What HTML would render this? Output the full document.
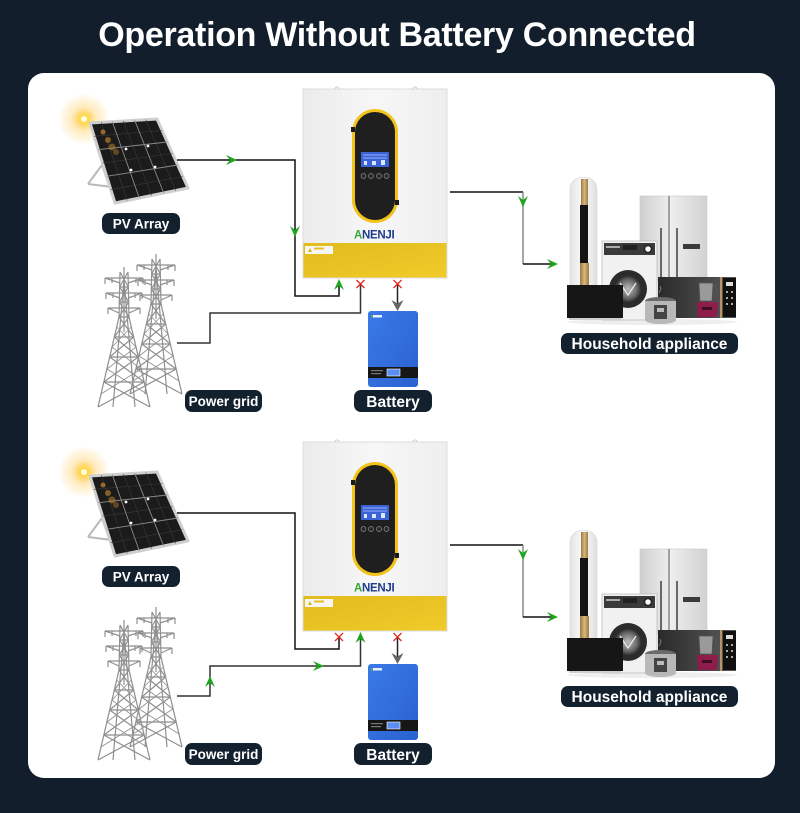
<!DOCTYPE html>
<html><head><meta charset="utf-8"><style>
html,body{margin:0;padding:0;background:#121e2b;}
svg{display:block;}
text{font-family:"Liberation Sans",Arial,sans-serif;}
</style></head><body>
<svg width="800" height="813" viewBox="0 0 800 813" xmlns="http://www.w3.org/2000/svg">
<defs>
  <radialGradient id="sunG" cx="0.5" cy="0.5" r="0.5">
    <stop offset="0" stop-color="#fffbe0"/>
    <stop offset="0.12" stop-color="#ffd640"/>
    <stop offset="0.45" stop-color="#ffc23a" stop-opacity="0.35"/>
    <stop offset="1" stop-color="#ffc23a" stop-opacity="0"/>
  </radialGradient>
  <linearGradient id="invBodyG" x1="0" y1="0" x2="1" y2="0">
    <stop offset="0" stop-color="#ebebeb"/><stop offset="0.5" stop-color="#f7f7f7"/><stop offset="1" stop-color="#eeeeee"/>
  </linearGradient>
  <linearGradient id="yelG" x1="0" y1="0" x2="1" y2="1">
    <stop offset="0" stop-color="#e2bb1c"/><stop offset="1" stop-color="#f0cb2a"/>
  </linearGradient>
  <linearGradient id="batG" x1="0" y1="0" x2="1" y2="1">
    <stop offset="0" stop-color="#3a7ae8"/><stop offset="1" stop-color="#2a62d0"/>
  </linearGradient>
  <linearGradient id="fridgeG" x1="0" y1="0" x2="1" y2="0">
    <stop offset="0" stop-color="#cfcfcf"/><stop offset="0.45" stop-color="#eeeeee"/><stop offset="1" stop-color="#d2d2d2"/>
  </linearGradient>
  <linearGradient id="acG" x1="0" y1="0" x2="1" y2="0">
    <stop offset="0" stop-color="#e4e4e4"/><stop offset="0.5" stop-color="#fbfbfb"/><stop offset="1" stop-color="#dedede"/>
  </linearGradient>
  <linearGradient id="goldG" x1="0" y1="0" x2="1" y2="0">
    <stop offset="0" stop-color="#9c7a45"/><stop offset="0.5" stop-color="#d8b77a"/><stop offset="1" stop-color="#9c7a45"/>
  </linearGradient>
  <linearGradient id="mwG" x1="0" y1="0" x2="1" y2="0">
    <stop offset="0" stop-color="#2a2a2a"/><stop offset="1" stop-color="#5a5a5a"/>
  </linearGradient>
  <radialGradient id="drumG" cx="0.5" cy="0.5" r="0.5">
    <stop offset="0" stop-color="#bdbdbd"/><stop offset="0.7" stop-color="#6a6a6a"/><stop offset="1" stop-color="#333"/>
  </radialGradient>

  <!-- tower -->
  <g id="tower" fill="none" stroke="#8f8f8f" stroke-width="1.2">
    <path d="M0,-5 V0 M-4,0 L-5,45 L-26,135 M4,0 L5,45 L26,135 M0,8 L-11,135 M0,8 L11,135 M0,0 V60"/>
    <path d="M-4,0 L4.3,15 M4,0 L-4.3,15 M-4.3,15 L4.7,30 M4.3,15 L-4.7,30 M-4.7,30 L5,45 M4.7,30 L-5,45 M-5,45 L9.7,65 M5,45 L-9.7,65 M-9.7,65 L14.3,85 M9.7,65 L-14.3,85 M-14.3,85 L20.2,110 M14.3,85 L-20.2,110 M-20.2,110 L26,135 M20.2,110 L-26,135"/>
    <path d="M-7.3,55 L12,75 M7.3,55 L-12,75 M-12,75 L17,97 M12,75 L-17,97 M-17,97 L23,122 M17,97 L-23,122" stroke-width="0.8"/>
    <path d="M-5,45 H5 M-9.7,65 H9.7 M-14.3,85 H14.3 M-20.2,110 H20.2 M-4.3,15 H4.3 M-4.7,30 H4.7"/>
    <path d="M-19,6 H19 M-19,6 v6 M19,6 v6 M-12,6 v5 M12,6 v5 M-19,6 L-4,11 M19,6 L4,11"/>
    <path d="M-18,21 H18 M-18,21 v6 M18,21 v6 M-11,21 v5 M11,21 v5 M-18,21 L-4,26 M18,21 L4,26"/>
    <path d="M-16,36 H16 M-16,36 v6 M16,36 v6 M-16,36 L-5,41 M16,36 L5,41"/>
  </g>

  <!-- solar panel -->
  <g id="solar">
    <circle cx="84" cy="119" r="26" fill="url(#sunG)"/>
    <path d="M102,165 L88,184 M102,165 L110,188 M88,184 L112,187" stroke="#b9b9b9" stroke-width="2" fill="none"/>
    <polygon points="90,123 157,119 188,188 115,203" fill="#1b1b1b" stroke="#cfcfcf" stroke-width="3" stroke-linejoin="round"/>
    <g stroke="#3a3a3a" stroke-width="0.6" fill="none">
      <path d="M101.2,122.3 L127.2,200.5 M123.5,121 L151.5,195.5 M145.8,119.6 L175.8,190.5"/>
      <path d="M94.2,136.3 L162.2,130.5 M102.5,163 L172.5,153.5 M110.8,189.7 L182.8,176.5"/>
    </g>
    <g stroke="#8a8a8a" stroke-width="0.9" fill="none">
      <path d="M112.3,121.7 L139.3,198 M134.7,120.3 L163.7,193"/>
      <path d="M98.3,149.7 L167.3,142 M106.7,176.3 L177.7,165"/>
    </g>
    <circle cx="126" cy="149" r="1.4" fill="#fff"/><circle cx="148" cy="146" r="1.4" fill="#fff"/>
    <circle cx="131" cy="170" r="1.4" fill="#fff"/><circle cx="155" cy="167" r="1.4" fill="#fff"/>
    <circle cx="103" cy="132" r="2.5" fill="#c98a2a" opacity="0.7"/>
    <circle cx="108" cy="140" r="3" fill="#c98a2a" opacity="0.6"/>
    <circle cx="112" cy="147" r="3.5" fill="#c98a2a" opacity="0.5"/>
    <circle cx="116" cy="152" r="3" fill="#c98a2a" opacity="0.4"/>
    <circle cx="84" cy="119" r="3" fill="#fffde0"/>
  </g>

  <!-- inverter -->
  <g id="inv">
    <rect x="303" y="89" width="144" height="189" fill="url(#invBodyG)" stroke="#dcdcdc" stroke-width="1"/>
    <path d="M335,89 a2,2 0 0 1 4,0 M413,89 a2,2 0 0 1 4,0" stroke="#ccc" fill="none" stroke-width="1"/>
    <rect x="303.5" y="243" width="143" height="34.5" fill="url(#yelG)"/>
    <rect x="305" y="246" width="28" height="8" fill="#f6f6f6"/>
    <polygon points="308,252 310,248 312,252" fill="#e1b419"/>
    <rect x="314" y="247.5" width="10" height="2" fill="#e6c020"/>
    <rect x="352" y="109" width="46" height="114" rx="23" fill="#f2c31a"/>
    <rect x="355" y="112" width="40" height="108" rx="20" fill="#1f1f1f"/>
    <rect x="351" y="127" width="4" height="5" fill="#1a1a1a"/>
    <rect x="395" y="200" width="4" height="5" fill="#1a1a1a"/>
    <rect x="361" y="152" width="28" height="15" fill="#3b63d8"/>
    <path d="M363,155 h24 M363,158 h24" stroke="#b8c8ff" stroke-width="0.8"/>
    <rect x="364" y="161" width="3" height="4" fill="#dde6ff"/><rect x="372" y="161" width="4" height="4" fill="#dde6ff"/><rect x="381" y="160" width="4" height="5" fill="#dde6ff"/>
    <g fill="#2a2a2a" stroke="#8a8a8a" stroke-width="0.7">
      <circle cx="363.5" cy="176" r="2.5"/><circle cx="371" cy="176" r="2.5"/><circle cx="379" cy="176" r="2.5"/><circle cx="386.5" cy="176" r="2.5"/>
    </g>
    <text x="354" y="238.5" font-size="11.5" font-weight="bold" letter-spacing="-0.3"><tspan fill="#3aa53a">A</tspan><tspan fill="#1d3c8c">NENJI</tspan></text>
  </g>

  <!-- battery -->
  <g id="battery">
    <rect x="368" y="311" width="50" height="76" rx="3" fill="url(#batG)"/>
    <rect x="368" y="367" width="50" height="11" fill="#161616"/>
    <rect x="387" y="369" width="13" height="7" fill="#5b8ef0" stroke="#fff" stroke-width="0.6"/>
    <rect x="371" y="370" width="12" height="1.2" fill="#777"/><rect x="371" y="373" width="10" height="1.2" fill="#777"/>
    <rect x="373" y="315" width="9" height="2.5" fill="#e8eeff"/>
    <rect x="371" y="315" width="2" height="2.5" fill="#4caf50"/>
  </g>

  <!-- appliances -->
  <g id="app">
    <ellipse cx="652" cy="322" rx="85" ry="3" fill="#eeeeee"/>
    <rect x="640" y="196" width="67" height="84" fill="url(#fridgeG)" stroke="#c8c8c8" stroke-width="0.6"/>
    <path d="M669,196 V280" stroke="#555" stroke-width="1"/>
    <path d="M661,228 V278 M677,228 V278" stroke="#4a4a4a" stroke-width="1.6"/>
    <rect x="683" y="244" width="17" height="5" fill="#3a3a3a"/>
    <path d="M570,189 a13.5,12 0 0 1 27,0 V287 H570 Z" fill="url(#acG)" stroke="#d5d5d5" stroke-width="0.6"/>
    <rect x="581" y="179" width="7" height="26" fill="url(#goldG)"/>
    <rect x="580" y="205" width="8" height="58" fill="#141414"/>
    <rect x="580" y="263" width="9" height="24" fill="url(#goldG)"/>
    <rect x="602" y="241" width="55" height="79" fill="#f1f1f1" stroke="#bdbdbd" stroke-width="0.8"/>
    <rect x="604" y="243" width="51" height="12" fill="#3a3a3a"/>
    <rect x="606" y="246" width="14" height="2" fill="#aaa"/><rect x="623" y="245" width="14" height="5" fill="#222"/>
    <circle cx="648" cy="249" r="3.5" fill="#fff" stroke="#222" stroke-width="1.5"/>
    <circle cx="628" cy="289" r="19" fill="#2b2b2b"/>
    <circle cx="628" cy="289" r="13" fill="url(#drumG)"/>
    <path d="M620,283 L628,295 L636,283" stroke="#eee" stroke-width="1.2" fill="none"/>
    <rect x="658" y="277" width="78" height="41" fill="url(#mwG)"/>
    <rect x="720" y="277" width="2" height="41" fill="#b89560"/>
    <rect x="723" y="278" width="13" height="39" fill="#101010"/>
    <g fill="#ddd"><rect x="726" y="282" width="7" height="4"/><circle cx="727" cy="292" r="1"/><circle cx="732" cy="292" r="1"/><circle cx="727" cy="298" r="1"/><circle cx="732" cy="298" r="1"/><circle cx="727" cy="304" r="1"/><circle cx="732" cy="304" r="1"/></g>
    <rect x="567" y="285" width="56" height="33" fill="#161616"/>
    <rect x="569" y="318" width="52" height="2" fill="#cfcfcf"/>
    <path d="M699,283 h14 l-1,18 h-12 Z" fill="#9a9a9a" stroke="#555" stroke-width="0.7"/>
    <path d="M713,286 h3 v10 h-3" stroke="#555" fill="none" stroke-width="1"/>
    <path d="M697,302 h21 l-1,15 h-19 Z" fill="#8e1c4c"/>
    <rect x="702" y="307" width="10" height="3" fill="#3b1020"/>
    <ellipse cx="660.5" cy="301" rx="15.5" ry="4" fill="#6a6a6a"/>
    <path d="M645,301 h31 v19 a15.5,4 0 0 1 -31,0 Z" fill="#b8b8b8"/>
    <rect x="654" y="305" width="13" height="14" fill="#444"/>
    <rect x="657" y="308" width="7" height="4" fill="#bbb"/>
    <path d="M659,293 l2,-4 l-1,-3" stroke="#777" fill="none"/>
  </g>

  <g id="arrR"><path d="M0,0 L-11,-5 L-7,0 L-11,5 Z" fill="#1ea51e"/></g>
  <g id="arrD"><path d="M0,0 L-5,-11 L0,-7 L5,-11 Z" fill="#1ea51e"/></g>
  <g id="arrU"><path d="M0,0 L-5,11 L0,7 L5,11 Z" fill="#1ea51e"/></g>
  <g id="xm"><path d="M-4,-4 L4,4 M4,-4 L-4,4" stroke="#e5261f" stroke-width="1.3"/></g>
</defs>

<!-- title -->
<text x="397" y="46" font-size="34" font-weight="bold" fill="#ffffff" text-anchor="middle" letter-spacing="-0.3">Operation Without Battery Connected</text>

<!-- panel -->
<rect x="28" y="73" width="747" height="705" rx="16" fill="#ffffff"/>

<!-- components -->
<use href="#solar"/>
<use href="#solar" y="353"/>
<use href="#tower" transform="translate(124,272)"/>
<use href="#tower" transform="translate(156,259)"/>
<use href="#tower" transform="translate(124,625)"/>
<use href="#tower" transform="translate(156,612)"/>
<use href="#inv"/>
<use href="#inv" y="353"/>
<use href="#battery"/>
<use href="#battery" y="353"/>
<use href="#app"/>
<use href="#app" y="353"/>

<!-- connectors top -->
<g fill="none" stroke-width="1.5">
  <path d="M177,160 H295 V296 H339 V286" stroke="#111"/>
  <path d="M177,343 H210 V313 H360.5 V284" stroke="#333"/>
  <path d="M397.5,284 V306" stroke="#222"/>
  <path d="M450,192 H523" stroke="#111"/>
  <path d="M523,192 V264" stroke="#888"/>
  <path d="M523,264 H552" stroke="#111"/>
</g>
<use href="#arrR" transform="translate(237,160)"/>
<use href="#arrD" transform="translate(295,237)"/>
<use href="#arrU" transform="translate(339,279)"/>
<use href="#xm" transform="translate(360.5,284)"/>
<use href="#xm" transform="translate(397.5,284)"/>
<path d="M397.5,311 L391.5,300 L397.5,303.5 L403.5,300 Z" fill="#666"/>
<use href="#arrD" transform="translate(523,207)"/>
<use href="#arrR" transform="translate(558,264)"/>

<!-- connectors bottom -->
<g fill="none" stroke-width="1.5">
  <path d="M177,513 H295 V649 H339 V637" stroke="#111"/>
  <path d="M177,696 H210 V666 H360.5 V639" stroke="#333"/>
  <path d="M397.5,637 V659" stroke="#222"/>
  <path d="M450,545 H523" stroke="#111"/>
  <path d="M523,545 V617" stroke="#888"/>
  <path d="M523,617 H552" stroke="#111"/>
</g>
<use href="#xm" transform="translate(339,637)"/>
<use href="#arrU" transform="translate(210,676)"/>
<use href="#arrR" transform="translate(324,666)"/>
<use href="#arrU" transform="translate(360.5,632)"/>
<use href="#xm" transform="translate(397.5,637)"/>
<path d="M397.5,664 L391.5,653 L397.5,656.5 L403.5,653 Z" fill="#666"/>
<use href="#arrD" transform="translate(523,560)"/>
<use href="#arrR" transform="translate(558,617)"/>

<!-- labels -->
<g fill="#13202e">
  <rect x="102" y="213" width="78" height="21" rx="7"/>
  <rect x="185" y="390" width="77" height="22" rx="7"/>
  <rect x="354" y="390" width="78" height="22" rx="7"/>
  <rect x="561" y="333" width="177" height="21" rx="7"/>
  <rect x="102" y="566" width="78" height="21" rx="7"/>
  <rect x="185" y="743" width="77" height="22" rx="7"/>
  <rect x="354" y="743" width="78" height="22" rx="7"/>
  <rect x="561" y="686" width="177" height="21" rx="7"/>
</g>
<g fill="#ffffff" font-weight="bold" text-anchor="middle">
  <text x="141" y="228.5" font-size="13.5">PV Array</text>
  <text x="223.5" y="406" font-size="13.5">Power grid</text>
  <text x="393" y="407" font-size="15.5">Battery</text>
  <text x="649.5" y="349" font-size="15.5">Household appliance</text>
  <text x="141" y="581.5" font-size="13.5">PV Array</text>
  <text x="223.5" y="759" font-size="13.5">Power grid</text>
  <text x="393" y="760" font-size="15.5">Battery</text>
  <text x="649.5" y="702" font-size="15.5">Household appliance</text>
</g>
</svg>
</body></html>
